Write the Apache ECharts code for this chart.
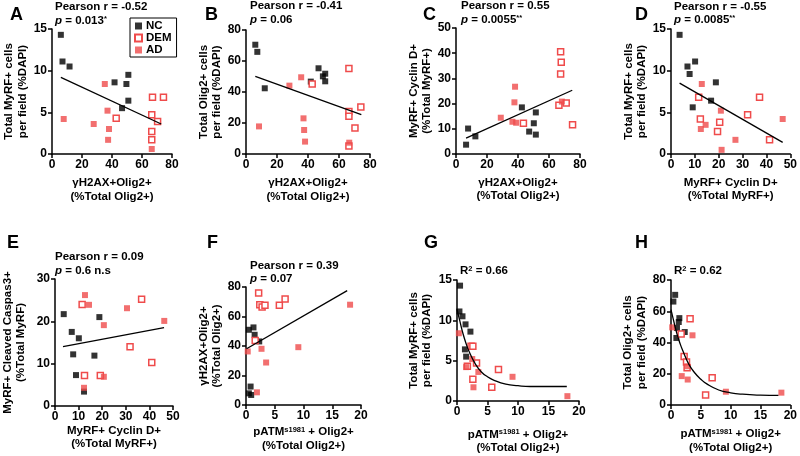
<!DOCTYPE html>
<html><head><meta charset="utf-8">
<script src="https://cdn.jsdelivr.net/npm/echarts@6/dist/echarts.min.js"></script>
<style>html,body{margin:0;padding:0;background:#fff}#c{width:800px;height:456px}</style>
</head><body><div id="c"></div>
<script>
// ---- data (x, y) ----
// A: γH2AX (x) vs Total MyRF (y)
const ncA  = [[5.9,14.3],[7.0,11.1],[11.7,10.5],[41.7,8.6],[49.6,8.4],[50.9,9.5],[50.9,6.4],[46.7,5.5]];
const demA = [[42.8,4.3],[67,6.8],[74.3,6.8],[66.5,4.7],[70.4,3.9],[66.5,2.7],[66.5,1.7]];
const adA  = [[7.8,4.2],[27.8,3.6],[35.2,8.4],[37,5.2],[38,3.0],[37.4,1.7],[66.5,0.6]];
const fitA = [[5.9,9.2],[72.8,3.6]];
// B: γH2AX (x) vs Total Olig2 (y)
const ncB  = [[6,70.5],[7.3,65.9],[12.1,42.4],[46.8,55.3],[41.8,46.7],[49.6,50.1],[51.1,51.8],[51.1,46.9]];
const demB = [[42.7,45.2],[66.4,55.1],[66.4,27.5],[66.4,24.3],[74.1,30.3],[70.3,16.8],[66.4,5.2]];
const adB  = [[8.4,17.8],[28,44.1],[35.6,49.5],[37.1,23],[37.5,15.5],[38.1,8],[66.6,7.3]];
const fitB = [[6,50.1],[74.4,25.4]];
// C: γH2AX (x) vs MyRF+ Cyclin D+ (y)
const ncC  = [[6.5,3.7],[7.8,10.1],[12.5,7.0],[42.5,18.5],[47.2,8.9],[50.2,12.2],[51.5,16.5],[51.5,7.7]];
const demC = [[43.5,12.2],[67.5,40.6],[67.9,36.4],[67.5,31.7],[66.4,19.3],[71.1,20.2],[75.2,11.6]];
const adC  = [[28.9,14.4],[36.4,12.8],[38.8,12.4],[37.7,20.5],[38.1,26.7],[68.3,20.8]];
const fitC = [[6.5,6.3],[75,25.3]];
// D: Cyclin D (x) vs Total MyRF (y)
const ncD  = [[3.6,14.3],[6.9,10.5],[7.8,9.6],[10.1,11.1],[9.1,5.6],[16.8,6.4],[18.8,8.6]];
const demD = [[11.6,6.8],[12.3,4.2],[19.5,2.7],[20.4,3.8],[32.1,4.7],[37.1,6.8],[41.3,1.7]];
const adD  = [[12.9,8.4],[12.5,3.0],[14.5,3.5],[20.9,5.2],[21.2,0.5],[27.0,1.7],[46.8,4.2]];
const fitD = [[3.6,8.5],[46.8,1.4]];
// E: Cyclin D (x) vs Cleaved Caspase3 (y)
const ncE  = [[3.7,21.7],[7.1,17.5],[7.7,12.2],[8.9,7.3],[10.1,16.0],[12.3,3.4],[16.7,11.9],[18.8,21.0]];
const demE = [[11.5,24.0],[12.5,7.2],[19.2,7.2],[31.8,14.0],[36.7,25.2],[41.0,10.3]];
const adE  = [[12.7,26.2],[14.4,23.9],[12.3,4.3],[20.7,19.1],[20.7,6.9],[30.5,23.1],[46.3,20.1]];
const fitE = [[3.4,14.0],[46.2,18.5]];
// F: pATM (x) vs γH2AX (y)
const ncF  = [[0.5,51.0],[1.3,52.6],[1.5,47.6],[2.3,43.1],[0.8,12.5],[0.5,7.9],[0.9,6.8]];
const demF = [[2.2,76.0],[2.4,68.0],[2.8,66.4],[3.3,67.6],[5.8,67.6],[6.8,71.9],[1.6,43.8]];
const adF  = [[0.3,36.3],[2.7,38.1],[3.5,28.8],[1.9,8.6],[9.1,39.2],[18.1,68.0]];
const fitF = [[0.1,38.1],[17.6,77.5]];
// G: pATM (x) vs Total MyRF (y)
const ncG  = [[0.5,14.3],[0.4,11.1],[0.9,10.5],[1.4,9.5],[2.2,8.6],[1.3,6.4],[1.5,5.5]];
const demG = [[2.3,6.8],[2.6,6.8],[3.2,4.7],[6.8,3.9],[2.6,2.7],[5.7,1.7],[1.7,4.3]];
const adG  = [[0.3,8.4],[1.5,4.2],[2.5,5.2],[2.7,1.7],[3.5,3.6],[9.1,3.0],[18.1,0.6]];
const fitG = [[0,11.4],[0.5,9.8],[1,8.3],[1.5,7.1],[2,6.1],[3,4.6],[4,3.6],[5,3.0],[6,2.6],[8,2.1],[10,1.9],[12,1.8],[15,1.8],[18,1.8]];
// H: pATM (x) vs Total Olig2 (y)
const ncH  = [[0.4,66.2],[0.7,70.5],[1.4,55.6],[1.3,53.1],[1.0,49.3],[0.9,42.9],[2.3,46.7]];
const demH = [[3.2,55.2],[1.7,45.4],[2.2,31],[2.6,27.6],[2.7,23.8],[6.9,17.4],[5.8,6.4]];
const adH  = [[0.2,49.7],[3.6,44.6],[1.8,18.5],[2.8,16.3],[2.7,24.8],[9.2,8.5],[18.5,7.9]];
const fitH = [[0,61],[0.5,53],[1,45.5],[1.5,39.5],[2,34.5],[3,26],[4,20.5],[5,16.5],[6,13.5],[8,9.6],[10,7.8],[12,6.9],[15,6.3],[18,6.1]];

const N_GH = 'γH2AX+Olig2+\n(%Total Olig2+)';
const N_CY = 'MyRF+ Cyclin D+\n(%Total MyRF+)';
const N_PA = 'pATM{s|s1981} + Olig2+\n(%Total Olig2+)';
const N_MY = 'Total MyRF+ cells\nper field (%DAPI)';
const N_OL = 'Total Olig2+ cells\nper field (%DAPI)';

const FF = '"Liberation Sans", Arial, sans-serif';
const RED = '#ef4b4b';

const panels = [
 {g:[52,29,120,125], xm:80, xi:20, xn:N_GH, xg:22.5, ym:15, yi:5, yn:N_MY, yg:22.5, d:[ncA,demA,adA,fitA], sm:false},
 {g:[246,30,124,124], xm:80, xi:20, xn:N_GH, xg:22.5, ym:80, yi:20, yn:N_OL, yg:21, d:[ncB,demB,adB,fitB], sm:false},
 {g:[456,28,124,126], xm:80, xi:20, xn:N_GH, xg:22, ym:50, yi:10, yn:'MyRF+ Cyclin D+\n(%Total MyRF+)', yg:21.5, d:[ncC,demC,adC,fitC], sm:false},
 {g:[671,29,120,125], xm:50, xi:10, xn:N_CY, xg:22, ym:15, yi:5, yn:N_MY, yg:22, d:[ncD,demD,adD,fitD], sm:false},
 {g:[51,279,122,127], xm:50, xi:10, xn:N_CY, xg:17, ym:30, yi:10, yn:'MyRF+ Cleaved Caspas3+\n(%Total MyRF)', yg:27, d:[ncE,demE,adE,fitE], sm:false},
 {g:[246,287,115,118], xm:20, xi:5, xn:N_PA, xg:20.5, ym:80, yi:20, yn:'γH2AX+Olig2+\n(%Total Olig2+)', yg:22, d:[ncF,demF,adF,fitF], sm:false},
 {g:[457,280,122,126], xm:20, xi:5, xn:N_PA, xg:27, ym:15, yi:5, yn:N_MY, yg:23, d:[ncG,demG,adG,fitG], sm:true},
 {g:[671,280,120,125], xm:20, xi:5, xn:N_PA, xg:22.5, ym:80, yi:20, yn:N_OL, yg:22.5, d:[ncH,demH,adH,fitH], sm:true}
];

const nameStyle = {fontSize:11.5, fontWeight:'bold', fontFamily:FF, color:'#000', lineHeight:13.5,
  rich:{s:{fontSize:7.5, fontWeight:'bold', fontFamily:FF, color:'#000', verticalAlign:'top', lineHeight:13.5}}};
function axisCommon(){
  return {
    type:'value', min:0, nameLocation:'middle', splitLine:{show:false},
    axisLine:{show:true, onZero:false, lineStyle:{color:'#000', width:1.5}},
    axisTick:{show:true, length:4, lineStyle:{color:'#000', width:1.5}},
    axisLabel:{color:'#000', fontSize:12, fontWeight:'bold', fontFamily:FF, margin:5},
    nameTextStyle:nameStyle
  };
}
const grid=[], xAxis=[], yAxis=[], series=[];
panels.forEach((p,i)=>{
  grid.push({left:p.g[0], top:p.g[1], width:p.g[2], height:p.g[3], containLabel:false});
  xAxis.push(Object.assign(axisCommon(), {gridIndex:i, max:p.xm, interval:p.xi, name:p.xn, nameGap:p.xg}));
  yAxis.push(Object.assign(axisCommon(), {gridIndex:i, max:p.ym, interval:p.yi, name:p.yn, nameGap:p.yg}));
  series.push({name:'NC', type:'scatter', xAxisIndex:i, yAxisIndex:i, symbol:'rect', symbolSize:6, data:p.d[0], itemStyle:{color:'#000'}, z:3});
  series.push({name:'DEM', type:'scatter', xAxisIndex:i, yAxisIndex:i, symbol:'rect', symbolSize:6, data:p.d[1], itemStyle:{color:'#fff', borderColor:RED, borderWidth:1.5, opacity:1}, z:3});
  series.push({name:'AD', type:'scatter', xAxisIndex:i, yAxisIndex:i, symbol:'rect', symbolSize:6, data:p.d[2], itemStyle:{color:RED}, z:3});
  series.push({name:'fit'+i, type:'line', xAxisIndex:i, yAxisIndex:i, data:p.d[3], symbol:'none', smooth:p.sm, lineStyle:{color:'#000', width:1.3}, z:4, silent:true, animation:false});
});

const RICH = {
  i:{fontStyle:'italic', fontWeight:'bold', fontSize:11.5, fontFamily:FF, fill:'#000'},
  s:{fontWeight:'bold', fontSize:7.5, fontFamily:FF, fill:'#000', verticalAlign:'top'}
};
function txt(x,y,text,size){
  return {type:'text', x:x, y:y, silent:true,
    style:{text:text, fontSize:size, fontWeight:'bold', fontFamily:FF, fill:'#000', align:'left', verticalAlign:'middle', rich:RICH}};
}
const labels = [
  ['A',10,15.5],['B',205,15],['C',423,15],['D',635,15],
  ['E',7,243],['F',207,243],['G',424,243],['H',635,243]
];
const notes = [
  ['Pearson r = -0.52',55,6.5],['{i|p} = 0.013{s|*}',55,20.5],
  ['Pearson r = -0.41',250,6],['{i|p} = 0.06',250,19.5],
  ['Pearson r = 0.55',461,6],['{i|p} = 0.0055{s|**}',461,20],
  ['Pearson r = -0.55',674,6.5],['{i|p} = 0.0085{s|**}',674,20],
  ['Pearson r = 0.09',55,256.5],['{i|p} = 0.6 n.s',55,270.5],
  ['Pearson r = 0.39',250,265.5],['{i|p} = 0.07',250,278.5],
  ['R{s|2} = 0.66',460,271],
  ['R{s|2} = 0.62',674,271]
];
const graphic = [];
labels.forEach(l=>graphic.push(txt(l[1],l[2],l[0],18)));
notes.forEach(n=>graphic.push(txt(n[1],n[2],n[0],11.5)));

const chart = echarts.init(document.getElementById('c'), null, {renderer:'canvas'});
chart.setOption({
  animation:false,
  backgroundColor:'#fff',
  legend:{data:['NC','DEM','AD'], orient:'vertical', left:130, top:18, icon:'rect', itemWidth:7, itemHeight:7, itemGap:0,
    padding:[2,5,1,4], borderColor:'#000', borderWidth:1, selectedMode:false,
    textStyle:{fontSize:11.5, fontWeight:'bold', fontFamily:FF, color:'#000', lineHeight:11.5, padding:[0,0,0,-1]}},
  grid:grid, xAxis:xAxis, yAxis:yAxis, series:series, graphic:graphic
});
</script></body></html>
